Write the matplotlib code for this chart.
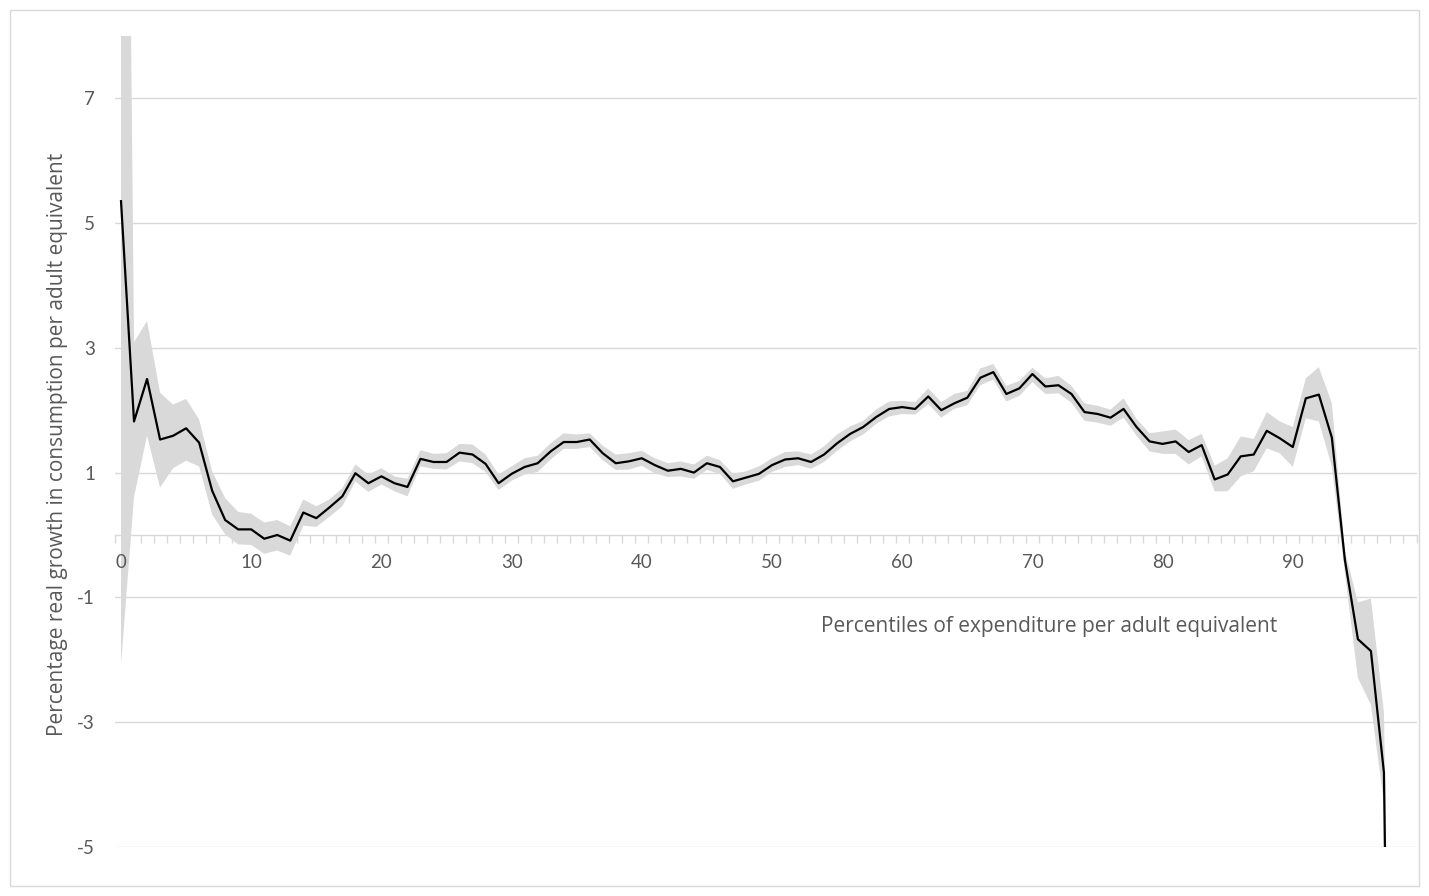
import matplotlib
matplotlib.use("Agg")
import matplotlib.pyplot as plt
import numpy as np
from matplotlib.patches import Rectangle

# ---------------- data ----------------
percentiles = list(range(0, 99))

growth = [5.35, 1.82, 2.50, 1.53, 1.59, 1.71, 1.48, 0.71, 0.24, 0.09,
          0.09, -0.06, 0.00, -0.09, 0.36, 0.27, 0.44, 0.62, 0.99, 0.83,
          0.94, 0.83, 0.77, 1.22, 1.17, 1.17, 1.32, 1.29, 1.14, 0.83,
          0.98, 1.09, 1.15, 1.34, 1.49, 1.49, 1.53, 1.31, 1.15, 1.18,
          1.23, 1.12, 1.03, 1.06, 1.00, 1.15, 1.09, 0.86, 0.92, 0.98,
          1.12, 1.21, 1.23, 1.17, 1.29, 1.47, 1.62, 1.73, 1.89, 2.02,
          2.05, 2.02, 2.22, 2.00, 2.11, 2.20, 2.52, 2.61, 2.26, 2.35,
          2.58, 2.38, 2.40, 2.26, 1.97, 1.94, 1.88, 2.02, 1.73, 1.50,
          1.46, 1.50, 1.33, 1.44, 0.89, 0.97, 1.26, 1.29, 1.67, 1.55,
          1.41, 2.19, 2.25, 1.56, -0.40, -1.67, -1.86, -3.81, -20.0]

upper = [25.0, 3.09, 3.43, 2.28, 2.09, 2.18, 1.85, 1.02, 0.59, 0.37,
         0.34, 0.20, 0.24, 0.14, 0.57, 0.46, 0.57, 0.75, 1.13, 0.97,
         1.07, 0.94, 0.90, 1.36, 1.30, 1.31, 1.46, 1.45, 1.29, 0.97,
         1.10, 1.23, 1.27, 1.47, 1.63, 1.61, 1.63, 1.43, 1.29, 1.31,
         1.35, 1.23, 1.15, 1.18, 1.13, 1.27, 1.20, 0.98, 1.02, 1.10,
         1.23, 1.33, 1.34, 1.29, 1.42, 1.61, 1.74, 1.83, 2.01, 2.14,
         2.15, 2.13, 2.35, 2.13, 2.26, 2.31, 2.67, 2.74, 2.39, 2.47,
         2.68, 2.51, 2.55, 2.39, 2.11, 2.07, 2.01, 2.19, 1.86, 1.63,
         1.66, 1.69, 1.52, 1.62, 1.11, 1.23, 1.58, 1.54, 1.97, 1.82,
         1.73, 2.51, 2.69, 2.11, -0.25, -1.08, -1.02, -2.85, -15.0]

lower = [-2.07, 0.61, 1.59, 0.76, 1.07, 1.19, 1.10, 0.33, 0.01, -0.15,
         -0.16, -0.30, -0.25, -0.33, 0.15, 0.13, 0.29, 0.46, 0.86, 0.69,
         0.81, 0.70, 0.62, 1.10, 1.06, 1.05, 1.18, 1.15, 1.01, 0.72,
         0.87, 0.97, 1.01, 1.21, 1.38, 1.38, 1.41, 1.20, 1.04, 1.05,
         1.11, 0.99, 0.93, 0.94, 0.90, 1.04, 0.98, 0.74, 0.81, 0.87,
         1.01, 1.09, 1.12, 1.06, 1.17, 1.35, 1.50, 1.61, 1.78, 1.90,
         1.94, 1.93, 2.10, 1.88, 2.02, 2.08, 2.40, 2.49, 2.14, 2.23,
         2.45, 2.26, 2.27, 2.12, 1.83, 1.80, 1.75, 1.88, 1.59, 1.34,
         1.30, 1.30, 1.13, 1.26, 0.70, 0.70, 0.94, 1.02, 1.39, 1.31,
         1.09, 1.87, 1.82, 1.10, -0.60, -2.29, -2.72, -4.30, -24.0]

x_tick_values = [0, 10, 20, 30, 40, 50, 60, 70, 80, 90]
y_tick_values = [-5, -3, -1, 1, 3, 5, 7]

x_label = "Percentiles of expenditure per adult equivalent"
y_label = "Percentage real growth in consumption per adult equivalent"

# ---------------- figure ----------------
plt.rcParams['font.family'] = ['Lato', 'DejaVu Sans']
W, H = 1429, 896
fig = plt.figure(figsize=(W / 100, H / 100), dpi=100)
fig.patch.set_facecolor('white')

# outer frame
fig.patches.append(Rectangle((10 / W, 10 / H), (W - 20) / W, (H - 20) / H,
                             transform=fig.transFigure, fill=False,
                             edgecolor='#d9d9d9', linewidth=1.0))

ax = fig.add_axes([114.5 / W, 49 / H, 1302 / W, 811.2 / H])
ax.set_xlim(-0.5, 99.5)
ax.set_ylim(-5, 8)

grid_c = '#d9d9d9'
text_c = '#595959'

# gridlines
for yv in y_tick_values:
    ax.axhline(yv, color=grid_c, linewidth=1.0, zorder=0)

ax.fill_between(percentiles, lower, upper, color='#d9d9d9', linewidth=0, zorder=1)
ax.plot(percentiles, growth, color='black', linewidth=1.6, zorder=3)

# spines
for s in ['top', 'right', 'left']:
    ax.spines[s].set_visible(False)
ax.spines['bottom'].set_position(('data', 0))
ax.spines['bottom'].set_color(grid_c)
ax.spines['bottom'].set_linewidth(1.0)
ax.spines['bottom'].set_zorder(0.5)

ax.set_xticks(x_tick_values)
ax.set_xticklabels([str(v) for v in x_tick_values])
ax.set_xticks(np.arange(-0.5, 100, 1.0), minor=True)
ax.tick_params(axis='x', which='major', length=0, pad=14, labelsize=13.5,
               labelcolor=text_c)
ax.tick_params(axis='x', which='minor', length=6, width=1.0, color=grid_c,
               direction='out')

ax.set_yticks(y_tick_values)
ax.set_yticklabels([str(v) for v in y_tick_values])
ax.tick_params(axis='y', length=0, pad=14, labelsize=13.5, labelcolor=text_c)

label_font = ['Open Sans', 'DejaVu Sans']
ax.text(71.3, -1.47, x_label, ha='center', va='center', fontsize=15,
        color=text_c, zorder=4, family=label_font)
fig.text(58 / W, 1 - 444 / H, y_label, rotation=90, ha='center', va='center',
         fontsize=15, color=text_c, family=label_font)

fig.savefig('out.png', dpi=100, facecolor='white')
